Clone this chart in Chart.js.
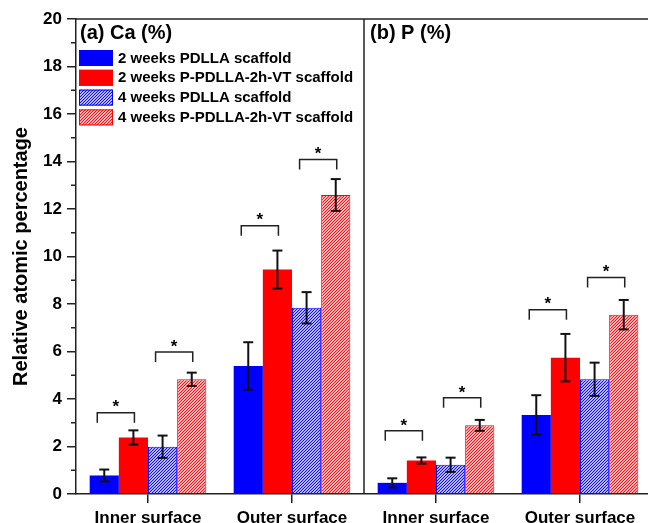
<!DOCTYPE html>
<html>
<head>
<meta charset="utf-8">
<script src="https://cdn.jsdelivr.net/npm/chart.js@4.4.1/dist/chart.umd.min.js"></script>
<style>
  html, body { margin: 0; padding: 0; background: #fff; overflow: hidden; }
  #wrap { position: relative; width: 652px; height: 523px; }
</style>
</head>
<body>
<div id="wrap"><canvas id="MiGrafica"></canvas></div>
<script>
// data
const categories = ['Inner surface', 'Outer surface', 'Inner surface', 'Outer surface'];
const panelTitles = ['(a) Ca (%)', '(b) P (%)'];
const seriesNames = [
    '2 weeks PDLLA scaffold',
    '2 weeks P-PDLLA-2h-VT scaffold',
    '4 weeks PDLLA scaffold',
    '4 weeks P-PDLLA-2h-VT scaffold'
];
const pdlla2w = [0.78, 5.39, 0.47, 3.33];
const ppdlla2w = [2.38, 9.45, 1.41, 5.74];
const pdlla4w = [1.99, 7.84, 1.23, 4.83];
const ppdlla4w = [4.83, 12.59, 2.89, 7.55];
const pdlla2wErr = [0.25, 1.0, 0.19, 0.83];
const ppdlla2wErr = [0.30, 0.80, 0.13, 1.0];
const pdlla4wErr = [0.47, 0.66, 0.30, 0.70];
const ppdlla4wErr = [0.28, 0.67, 0.23, 0.62];
// significance brackets: top line level for 2-week pair and 4-week pair
const bracket2w = [3.42, 11.3, 2.66, 7.76];
const bracket4w = [5.98, 14.08, 4.05, 9.12];
const yTicks = [0, 2, 4, 6, 8, 10, 12, 14, 16, 18, 20];

const FONT = "'Liberation Sans', Arial, sans-serif";
const AXIS = '#222';

function hatch(color) {
    const n = 3;
    const c = document.createElement('canvas');
    c.width = n; c.height = n;
    const g = c.getContext('2d');
    g.fillStyle = '#fff';
    g.fillRect(0, 0, n, n);
    g.strokeStyle = color;
    g.lineWidth = 1.1;
    g.beginPath();
    g.moveTo(0, n); g.lineTo(n, 0);
    g.moveTo(-1, 1); g.lineTo(1, -1);
    g.moveTo(n - 1, n + 1); g.lineTo(n + 1, n - 1);
    g.stroke();
    return g.createPattern(c, 'repeat');
}

const blueHatch = hatch('#0000ff');
const redHatch = hatch('#ff0000');
const errs = [pdlla2wErr, ppdlla2wErr, pdlla4wErr, ppdlla4wErr];

function line(ctx, x1, y1, x2, y2) {
    ctx.beginPath();
    ctx.moveTo(x1, y1);
    ctx.lineTo(x2, y2);
    ctx.stroke();
}

const annot = {
    id: 'annot',
    afterDatasetsDraw(chart) {
        const ctx = chart.ctx;
        const a = chart.chartArea;
        const x = chart.scales.x, y = chart.scales.y;
        ctx.save();
        ctx.strokeStyle = AXIS;
        ctx.lineWidth = 1.5;
        // top frame and panel divider
        line(ctx, a.left, a.top, a.right, a.top);
        const divX = (x.getPixelForValue(1) + x.getPixelForValue(2)) / 2;
        line(ctx, divX, a.top, divX, a.bottom);
        // minor ticks
        for (let v = 1; v < 20; v += 2) {
            const py = y.getPixelForValue(v);
            line(ctx, a.left - 5, py, a.left, py);
        }
        // error bars
        ctx.strokeStyle = '#111';
        ctx.lineWidth = 2;
        errs.forEach((err, di) => {
            const meta = chart.getDatasetMeta(di);
            const vals = chart.data.datasets[di].data;
            meta.data.forEach((bar, i) => {
                const yt = y.getPixelForValue(vals[i] + err[i]);
                const yb = y.getPixelForValue(vals[i] - err[i]);
                line(ctx, bar.x, yt, bar.x, yb);
                line(ctx, bar.x - 5, yt, bar.x + 5, yt);
                line(ctx, bar.x - 5, yb, bar.x + 5, yb);
            });
        });
        // significance brackets
        ctx.lineWidth = 1.5;
        ctx.strokeStyle = '#222';
        ctx.fillStyle = '#000';
        ctx.font = 'bold 17px ' + FONT;
        ctx.textAlign = 'center';
        ctx.textBaseline = 'middle';
        const pairs = [[0, 1, bracket2w], [2, 3, bracket4w]];
        pairs.forEach(([da, db, lev]) => {
            const ma = chart.getDatasetMeta(da), mb = chart.getDatasetMeta(db);
            lev.forEach((v, i) => {
                const x1 = ma.data[i].x - 7, x2 = mb.data[i].x + 1;
                const py = y.getPixelForValue(v);
                ctx.beginPath();
                ctx.moveTo(x1, py + 10);
                ctx.lineTo(x1, py);
                ctx.lineTo(x2, py);
                ctx.lineTo(x2, py + 10);
                ctx.stroke();
                ctx.fillText('*', (x1 + x2) / 2, py - 5);
            });
        });
        // panel titles
        ctx.textAlign = 'left';
        ctx.font = 'bold 20px ' + FONT;
        ctx.fillText(panelTitles[0], a.left + 4, a.top + 14);
        ctx.fillText(panelTitles[1], divX + 6, a.top + 14);
        // legend
        ctx.font = 'bold 15px ' + FONT;
        const ds = chart.data.datasets;
        ds.forEach((d, i) => {
            const bx = a.left + 3, by = a.top + 31 + i * 19.8;
            ctx.fillStyle = d.backgroundColor;
            ctx.fillRect(bx, by, 34, 16);
            ctx.strokeStyle = d.borderColor;
            ctx.lineWidth = 1;
            ctx.strokeRect(bx + 0.5, by + 0.5, 33, 15);
            ctx.fillStyle = '#000';
            ctx.fillText(d.label, bx + 39, by + 8.5);
        });
        ctx.restore();
    }
};

const chart = new Chart(document.getElementById('MiGrafica').getContext('2d'), {
    type: 'bar',
    data: {
        labels: categories,
        datasets: [
            { label: seriesNames[0], data: pdlla2w, backgroundColor: '#0000ff', borderColor: '#0000ff', borderWidth: 0 },
            { label: seriesNames[1], data: ppdlla2w, backgroundColor: '#ff0000', borderColor: '#ff0000', borderWidth: 0 },
            { label: seriesNames[2], data: pdlla4w, backgroundColor: blueHatch, borderColor: '#0000ff', borderWidth: 1 },
            { label: seriesNames[3], data: ppdlla4w, backgroundColor: redHatch, borderColor: '#ff0000', borderWidth: 1 }
        ]
    },
    options: {
        responsive: true,
        maintainAspectRatio: false,
        animation: false,
        layout: { padding: { top: 19, right: 0, left: 0, bottom: 0 } },
        datasets: { bar: { categoryPercentage: 0.81, barPercentage: 1 } },
        plugins: { legend: { display: false }, tooltip: { enabled: false } },
        scales: {
            x: {
                afterFit: s => { s.height = 29; },
                border: { display: true, color: AXIS, width: 1.5 },
                grid: { display: true, drawOnChartArea: false, drawTicks: true, tickLength: 9, offset: false, color: AXIS, lineWidth: 1.5 },
                ticks: { color: '#000', padding: 5, font: { family: FONT, size: 17, weight: 'bold' } }
            },
            y: {
                min: 0,
                max: 20,
                afterFit: s => { s.width = 76; },
                afterBuildTicks: s => { s.ticks = yTicks.map(v => ({ value: v })); },
                border: { display: true, color: AXIS, width: 1.5 },
                grid: { display: true, drawOnChartArea: false, drawTicks: true, tickLength: 9, color: AXIS, lineWidth: 1.5 },
                ticks: { color: '#000', padding: 5, font: { family: FONT, size: 17, weight: 'bold' } },
                title: {
                    display: true,
                    text: 'Relative atomic percentage',
                    color: '#000',
                    padding: { top: 9, bottom: 0 },
                    font: { family: FONT, size: 20, weight: 'bold' }
                }
            }
        }
    },
    plugins: [annot]
});
</script>
</body>
</html>
